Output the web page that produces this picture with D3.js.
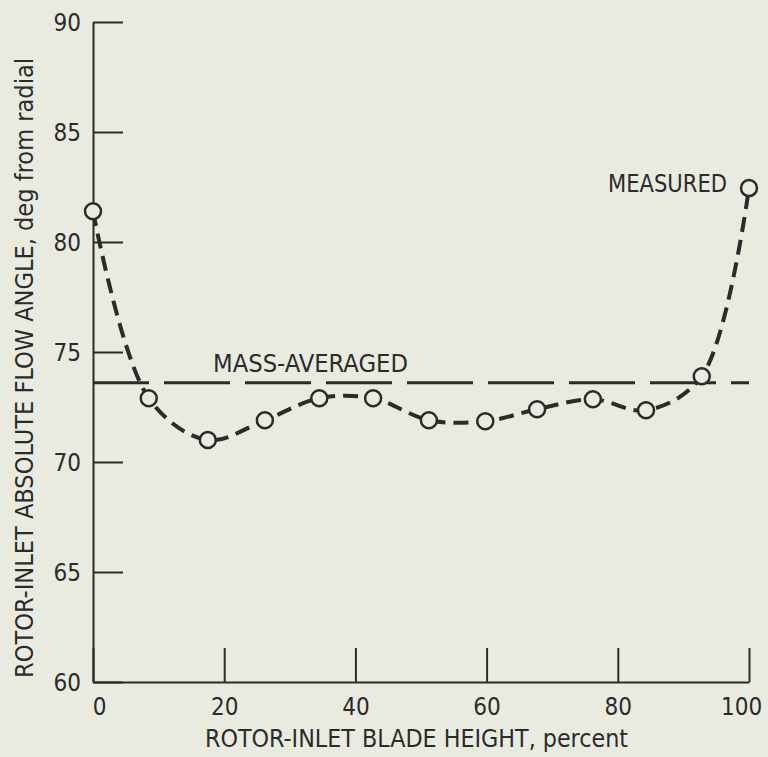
<!DOCTYPE html>
<html>
<head>
<meta charset="utf-8">
<script src="https://cdn.jsdelivr.net/npm/d3@7"></script>
<style>
  body { margin: 0; background: #e9ebe1; }
  svg { display: block; }
  text { font-family: "DejaVu Sans", sans-serif; font-stretch: condensed; fill: #2b2b2b; }
</style>
</head>
<body>
<div id="chart"></div>
<script>
// blade height, percent
var bladeHeight = [0, 8.5, 17.5, 26.2, 34.5, 42.7, 51.2, 59.8, 67.7, 76.2, 84.3, 92.8, 100];
// measured absolute flow angle, deg from radial
var flowAngle = [81.4, 72.9, 71.0, 71.9, 72.9, 72.9, 71.9, 71.85, 72.4, 72.85, 72.35, 73.9, 82.45];
var massAveraged = 73.6;
var xTicks = [0, 20, 40, 60, 80, 100];
var yTicks = [60, 65, 70, 75, 80, 85, 90];

var W = 768, H = 757;
var ink = "#2b2b2b";

var svg = d3.select("#chart")
  .append("svg")
  .attr("width", W)
  .attr("height", H);

var x = d3.scaleLinear().domain([0, 100]).range([93, 749]);
var y = d3.scaleLinear().domain([60, 90]).range([682, 22]);

// Y axis (ticks point inward)
var yAxis = svg.append("g")
  .attr("transform", "translate(" + x(0) + ",0)")
  .call(d3.axisLeft(y).tickValues(yTicks).tickSizeInner(-30).tickSizeOuter(0).tickPadding(12));
yAxis.selectAll("text").style("font-size", "24px").attr("dy", "0.36em");

// X axis (ticks point up)
var xAxis = svg.append("g")
  .attr("transform", "translate(0," + y(60) + ")")
  .call(d3.axisBottom(x).tickValues(xTicks).tickSizeInner(-34).tickSizeOuter(0).tickPadding(16));
xAxis.selectAll("text")
  .style("font-size", "24px")
  .attr("dx", function (d) { return d === 0 ? 6 : (d === 100 ? -8 : 0); });

svg.selectAll(".domain, .tick line")
  .attr("stroke", ink)
  .attr("stroke-width", 2);
svg.selectAll(".tick text").attr("fill", ink);

// Mass-averaged line
svg.append("line")
  .attr("x1", x(0))
  .attr("x2", x(100))
  .attr("y1", y(massAveraged))
  .attr("y2", y(massAveraged))
  .attr("stroke", ink)
  .attr("stroke-width", 3)
  .attr("stroke-dasharray", "66,15")
  .attr("stroke-dashoffset", 10);

// Measured curve
var pts = bladeHeight.map(function (d, i) { return [d, flowAngle[i]]; });
var line = d3.line()
  .x(function (d) { return x(d[0]); })
  .y(function (d) { return y(d[1]); })
  .curve(d3.curveCatmullRom.alpha(0.5));

svg.append("path")
  .datum(pts)
  .attr("d", line)
  .attr("fill", "none")
  .attr("stroke", ink)
  .attr("stroke-width", 4)
  .attr("stroke-dasharray", "15,8");

svg.selectAll("circle.pt")
  .data(pts)
  .join("circle")
  .attr("class", "pt")
  .attr("cx", function (d) { return x(d[0]); })
  .attr("cy", function (d) { return y(d[1]); })
  .attr("r", 8)
  .attr("fill", "#e9ebe1")
  .attr("stroke", ink)
  .attr("stroke-width", 2.5);

// Labels
svg.append("text")
  .attr("x", 213)
  .attr("y", 372)
  .attr("textLength", 195)
  .attr("lengthAdjust", "spacingAndGlyphs")
  .style("font-size", "24px")
  .text("MASS-AVERAGED");

svg.append("text")
  .attr("x", 608)
  .attr("y", 192)
  .attr("textLength", 119)
  .attr("lengthAdjust", "spacingAndGlyphs")
  .style("font-size", "25px")
  .text("MEASURED");

svg.append("text")
  .attr("x", 205)
  .attr("y", 747)
  .attr("textLength", 423)
  .attr("lengthAdjust", "spacingAndGlyphs")
  .style("font-size", "24px")
  .text("ROTOR-INLET BLADE HEIGHT, percent");

svg.append("text")
  .attr("transform", "translate(33,678) rotate(-90)")
  .attr("x", 0)
  .attr("y", 0)
  .attr("textLength", 620)
  .attr("lengthAdjust", "spacingAndGlyphs")
  .style("font-size", "24px")
  .text("ROTOR-INLET ABSOLUTE FLOW ANGLE, deg from radial");
</script>
</body>
</html>
